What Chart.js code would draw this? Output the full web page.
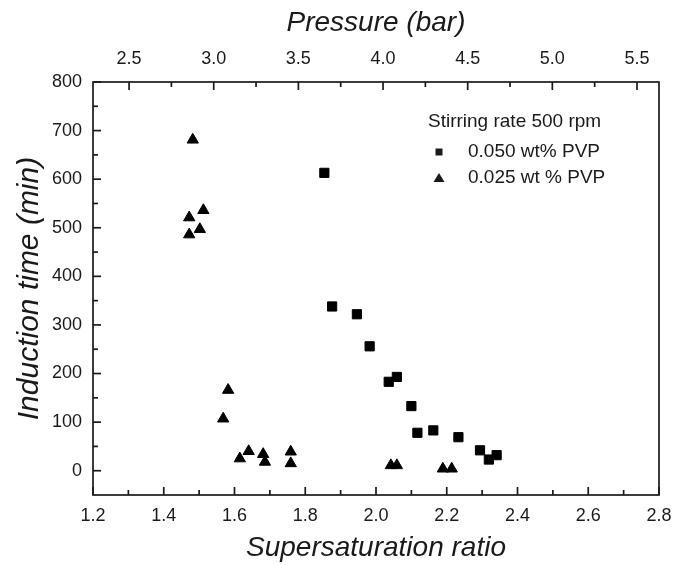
<!DOCTYPE html>
<html>
<head>
<meta charset="utf-8">
<script src="https://cdn.jsdelivr.net/npm/chart.js@4.4.1/dist/chart.umd.min.js"></script>
<style>
  html, body { margin: 0; padding: 0; background: #fff; }
  #wrap { width: 673px; height: 565px; }
</style>
</head>
<body>
<div id="wrap"><canvas id="chart" width="673" height="565"></canvas></div>
<script>
// 0.050 wt% PVP (squares)
const pvp050Ratio = [1.854, 1.876, 1.946, 1.982, 2.036, 2.059, 2.100, 2.117, 2.162, 2.233, 2.294, 2.319, 2.341];
const pvp050Time  = [613, 338, 322, 256, 183, 193, 133, 78, 83, 69, 42, 23, 32];

// 0.025 wt % PVP (triangles)
const pvp025Ratio = [1.482, 1.512, 1.472, 1.502, 1.472, 1.582, 1.568, 1.640, 1.615, 1.681, 1.686, 1.759, 1.759, 2.042, 2.059, 2.189, 2.214];
const pvp025Time  = [681, 536, 521, 497, 486, 166, 107, 40, 25, 34, 18, 39, 15, 11, 11, 4, 4];

const ratioTicks = [1.2, 1.4, 1.6, 1.8, 2.0, 2.2, 2.4, 2.6, 2.8];
const timeTicks = [0, 100, 200, 300, 400, 500, 600, 700, 800];
const pressureTicks = [2.5, 3.0, 3.5, 4.0, 4.5, 5.0, 5.5];

const legendTitle = "Stirring rate 500 rpm";
const seriesNames = ["0.050 wt% PVP", "0.025 wt % PVP"];

const ink = "#1a1a1a";
const tickFont = { family: "'Liberation Sans', Arial, sans-serif", size: 18 };
const titleFont = { family: "'Liberation Sans', Arial, sans-serif", size: 28, style: "italic" };
const yTitleFont = { family: "'Liberation Sans', Arial, sans-serif", size: 30, style: "italic" };

const toPoints = (xs, ys) => xs.map((x, i) => ({ x: x, y: ys[i] }));

// frame plus inward major/minor tick marks
const frameTicks = {
  id: "frameTicks",
  afterDraw(chart) {
    const { ctx, chartArea: a, scales } = chart;
    ctx.save();
    ctx.strokeStyle = ink;
    ctx.lineWidth = 1.7;
    ctx.strokeRect(a.left, a.top, a.right - a.left, a.bottom - a.top);
    const line = (x1, y1, x2, y2) => { ctx.beginPath(); ctx.moveTo(x1, y1); ctx.lineTo(x2, y2); ctx.stroke(); };

    // bottom axis, minor every 0.1
    for (let i = 0; i <= 16; i++) {
      const px = scales.x.getPixelForValue(1.2 + i * 0.1);
      line(px, a.bottom, px, a.bottom - (i % 2 === 0 ? 8 : 5));
    }
    // top axis, minor every 0.25
    for (let i = 0; i <= 12; i++) {
      const v = 2.5 + i * 0.25;
      if (v > scales.x2.max) break;
      const px = scales.x2.getPixelForValue(v);
      line(px, a.top, px, a.top + (i % 2 === 0 ? 8 : 5));
    }
    // left axis, minor every 50
    for (let i = 0; i <= 16; i++) {
      const py = scales.y.getPixelForValue(i * 50);
      line(a.left, py, a.left + (i % 2 === 0 ? 8 : 5), py);
    }
    ctx.restore();
  }
};

// legend drawn inside the plot
const innerLegend = {
  id: "innerLegend",
  afterDraw(chart) {
    const { ctx, chartArea: a } = chart;
    const x0 = a.left + 335;
    const y0 = a.top + 40;
    ctx.save();
    ctx.fillStyle = ink;
    ctx.font = "19px 'Liberation Sans', Arial, sans-serif";
    ctx.textBaseline = "middle";
    ctx.textAlign = "left";
    ctx.fillText(legendTitle, x0, y0);

    const mx = x0 + 11;
    const tx = x0 + 40;
    // square
    let y = y0 + 30;
    ctx.fillRect(mx - 3.5, y - 3.5, 7, 7);
    ctx.fillText(seriesNames[0], tx, y);
    // triangle
    y = y0 + 56;
    ctx.beginPath();
    ctx.moveTo(mx, y - 5);
    ctx.lineTo(mx + 5.5, y + 4);
    ctx.lineTo(mx - 5.5, y + 4);
    ctx.closePath();
    ctx.fill();
    ctx.fillText(seriesNames[1], tx, y);
    ctx.restore();
  }
};

new Chart(document.getElementById("chart"), {
  type: "scatter",
  data: {
    datasets: [
      {
        label: seriesNames[0],
        data: toPoints(pvp050Ratio, pvp050Time),
        pointStyle: "rect",
        pointRadius: 6.5,
        pointHoverRadius: 6.5,
        backgroundColor: "#000",
        borderColor: "#000",
        borderWidth: 1,
        xAxisID: "x",
        yAxisID: "y"
      },
      {
        label: seriesNames[1],
        data: toPoints(pvp025Ratio, pvp025Time),
        pointStyle: "triangle",
        pointRadius: 6.5,
        pointHoverRadius: 6.5,
        backgroundColor: "#000",
        borderColor: "#000",
        borderWidth: 1,
        xAxisID: "x",
        yAxisID: "y"
      }
    ]
  },
  options: {
    responsive: false,
    animation: false,
    devicePixelRatio: 1,
    layout: { padding: { left: 0, right: 14, top: 0, bottom: 0 } },
    plugins: {
      legend: { display: false },
      tooltip: { enabled: false }
    },
    scales: {
      x: {
        type: "linear",
        position: "bottom",
        min: 1.2,
        max: 2.8,
        afterBuildTicks: s => { s.ticks = ratioTicks.map(v => ({ value: v })); },
        afterFit: s => { s.height = 70; s.paddingLeft = 0; s.paddingRight = 0; },
        grid: { display: false, drawTicks: false },
        border: { display: false },
        ticks: { padding: 10, color: ink, font: tickFont, maxRotation: 0, callback: v => v.toFixed(1) },
        title: { display: true, text: "Supersaturation ratio", color: ink, font: titleFont, padding: { top: 0, bottom: 0 } }
      },
      x2: {
        type: "linear",
        position: "top",
        min: 2.287,
        max: 5.63,
        afterBuildTicks: s => { s.ticks = pressureTicks.map(v => ({ value: v })); },
        afterFit: s => { s.height = 82; s.paddingLeft = 0; s.paddingRight = 0; },
        grid: { display: false, drawTicks: false },
        border: { display: false },
        ticks: { padding: 12, color: ink, font: tickFont, maxRotation: 0, callback: v => v.toFixed(1) },
        title: { display: true, text: "Pressure (bar)", color: ink, font: titleFont, padding: { top: 6, bottom: 0 } }
      },
      y: {
        type: "linear",
        position: "left",
        min: -50,
        max: 800,
        afterBuildTicks: s => { s.ticks = timeTicks.map(v => ({ value: v })); },
        afterFit: s => { s.width = 93; s.paddingTop = 0; s.paddingBottom = 0; },
        grid: { display: false, drawTicks: false },
        border: { display: false },
        ticks: { padding: 11, color: ink, font: tickFont },
        title: { display: true, text: "Induction time (min)", color: ink, font: yTitleFont, padding: { top: 12, bottom: 0 } }
      }
    }
  },
  plugins: [frameTicks, innerLegend]
});
</script>
</body>
</html>
